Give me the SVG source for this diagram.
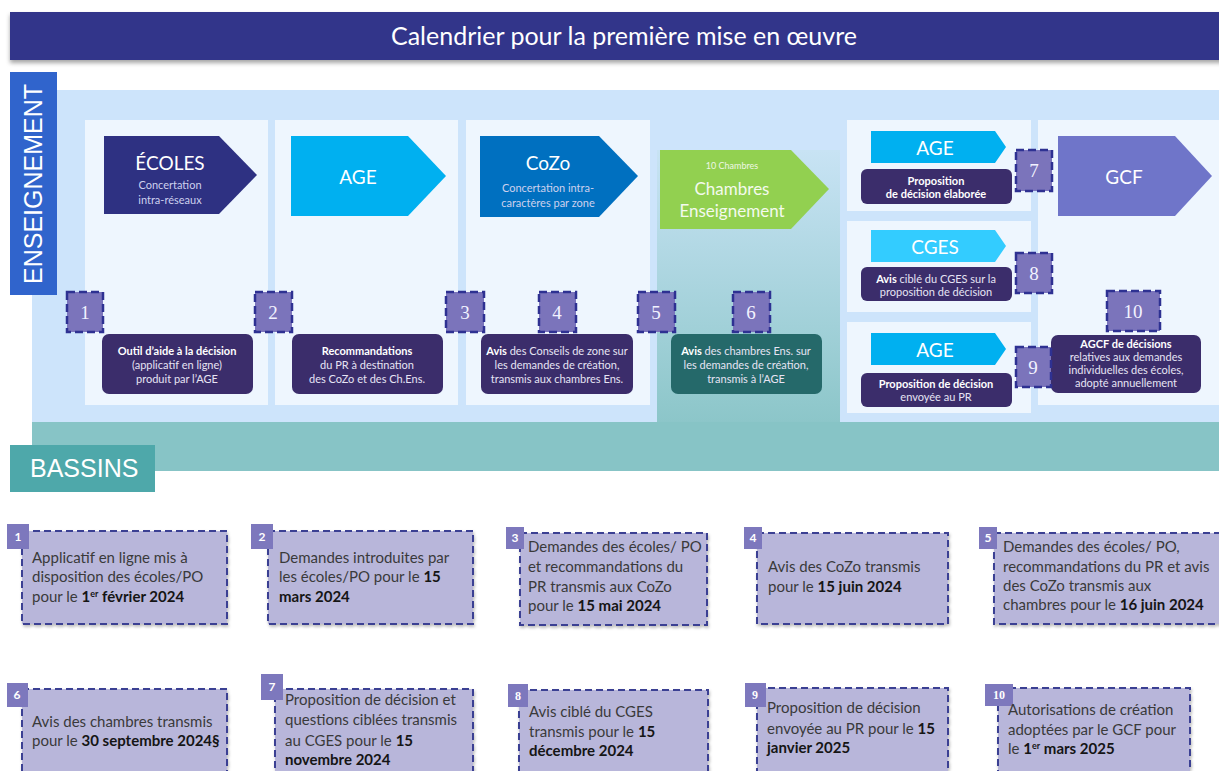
<svg xmlns="http://www.w3.org/2000/svg" width="1219" height="771" viewBox="0 0 1219 771">
<defs>
<linearGradient id="chg" x1="0" y1="0" x2="0" y2="1">
<stop offset="0" stop-color="#c8e3f4"/>
<stop offset="1" stop-color="#8cc6c9"/>
</linearGradient>
<filter id="sh" x="-5%" y="-20%" width="110%" height="150%">
<feDropShadow dx="0" dy="3" stdDeviation="2" flood-color="#000" flood-opacity="0.35"/>
</filter>
<filter id="bsh" x="-5%" y="-5%" width="110%" height="115%">
<feDropShadow dx="1" dy="2" stdDeviation="1.5" flood-color="#000" flood-opacity="0.25"/>
</filter>
</defs>
<style>
text{font-family:Lato,"Open Sans","Liberation Sans",sans-serif}
.w{fill:#ffffff}
.sub{fill:#cdd0ee;font-size:11px}
.at{fill:#ffffff;font-size:19px;text-anchor:middle}
.dk{fill:#3b2d6b}
.dt{fill:#e6e4f4;font-size:11px;text-anchor:middle}
.b{font-weight:bold;fill:#ffffff}
.sq{fill:#7b74bb;stroke:#2e3192;stroke-width:2.5;stroke-dasharray:8 4}
.num{font-family:"Liberation Serif","DejaVu Serif",serif;font-size:19px;fill:#f2f2ff;text-anchor:middle}
.pn{fill:#eef6fe}
.bb{fill:#b8b6da;stroke:#3b4093;stroke-width:2;stroke-dasharray:7 4}
.tag{fill:#7d78bd}
.tn{fill:#ffffff;font-size:12px;font-weight:bold;text-anchor:middle}
.tns{font-family:"Liberation Serif",serif}
.bt{font-size:15px;fill:#3a3a3a}
.bd{font-weight:bold;fill:#151515}
.lab{font-family:"Liberation Sans",Arial,sans-serif;fill:#ffffff;font-size:25px}
</style>

<g id="header">
<rect x="10" y="12" width="1215" height="48" fill="#30368a" filter="url(#sh)"/>
<text x="624" y="45" class="w" font-size="25" text-anchor="middle">Calendrier pour la première mise en œuvre</text>
</g>

<g id="background">
<rect x="32" y="90" width="1187" height="332" fill="#cde4fb"/>
<rect x="32" y="422" width="1187" height="49" fill="#87c4c6"/>
<rect x="657" y="150" width="183" height="272" fill="url(#chg)"/>
<rect class="pn" x="85" y="120" width="183" height="285"/>
<rect class="pn" x="275" y="120" width="183" height="285"/>
<rect class="pn" x="466" y="120" width="184" height="285"/>
<rect class="pn" x="847" y="120" width="184" height="91"/>
<rect class="pn" x="847" y="221" width="184" height="91"/>
<rect class="pn" x="847" y="322" width="184" height="91"/>
<rect class="pn" x="1038" y="120" width="181" height="285"/>
</g>

<g id="label-enseignement">
<rect x="10" y="72" width="47" height="223" fill="#3064cc"/>
<text class="lab" transform="translate(42,184) rotate(-90)" text-anchor="middle" font-size="24">ENSEIGNEMENT</text>
</g>

<g id="label-bassins">
<rect x="10" y="445" width="145" height="47" fill="#4ea8aa"/>
<text class="lab" x="30" y="477" font-size="24">BASSINS</text>
</g>

<g id="node-ecoles">
<polygon points="104,136 219,136 257,175 219,214 104,214" fill="#2e3182"/>
<text class="at" x="170" y="170" font-size="18">ÉCOLES</text>
<text class="sub" x="170" y="189" text-anchor="middle">Concertation</text>
<text class="sub" x="170" y="204" text-anchor="middle">intra-réseaux</text>
</g>

<g id="node-age1">
<polygon points="291,136 408,136 446,176 408,216 291,216" fill="#00b0f0"/>
<text class="at" x="358" y="184">AGE</text>
</g>

<g id="node-cozo">
<polygon points="480,136 599,136 638,176 599,217 480,217" fill="#0070c0"/>
<text class="at" x="548" y="170">CoZo</text>
<text class="sub" x="548" y="192" text-anchor="middle">Concertation intra-</text>
<text class="sub" x="548" y="207" text-anchor="middle">caractères par zone</text>
</g>

<g id="node-chambres">
<polygon points="660,150 791,150 829,189 791,229 660,229" fill="#92d050"/>
<text x="732" y="169" fill="#eef7e4" font-size="9" text-anchor="middle">10 Chambres</text>
<text x="732" y="195" fill="#f4faee" font-size="17" text-anchor="middle">Chambres</text>
<text x="732" y="217" fill="#f4faee" font-size="17" text-anchor="middle">Enseignement</text>
</g>

<g id="node-age2">
<polygon points="871,131 995,131 1006,147 995,163 871,163" fill="#00b0f0"/>
<text class="at" x="935" y="155" font-size="18">AGE</text>
</g>

<g id="node-cges">
<polygon points="871,230 995,230 1006,246 995,262 871,262" fill="#33ccff"/>
<text class="at" x="935" y="254" font-size="18">CGES</text>
</g>

<g id="node-age3">
<polygon points="871,333 995,333 1006,349 995,365 871,365" fill="#00b0f0"/>
<text class="at" x="935" y="357" font-size="18">AGE</text>
</g>

<g id="node-gcf">
<polygon points="1058,136 1175,136 1212,176 1175,216 1058,216" fill="#6f75c9"/>
<text class="at" x="1124" y="184">GCF</text>
</g>

<g id="box-outil">
<rect class="dk" x="102" y="334" width="151" height="60" rx="7"/>
<text class="dt" x="177" y="355"><tspan class="b">Outil d’aide à la décision</tspan></text>
<text class="dt" x="177" y="369">(applicatif en ligne)</text>
<text class="dt" x="177" y="383">produit par l’AGE</text>
</g>

<g id="box-recommandations">
<rect class="dk" x="292" y="334" width="151" height="60" rx="7"/>
<text class="dt" x="367" y="355"><tspan class="b">Recommandations</tspan></text>
<text class="dt" x="367" y="369">du PR à destination</text>
<text class="dt" x="367" y="383">des CoZo et des Ch.Ens.</text>
</g>

<g id="box-avis-cozo">
<rect class="dk" x="481" y="334" width="152" height="60" rx="7"/>
<text class="dt" x="557" y="355"><tspan class="b">Avis</tspan> des Conseils de zone sur</text>
<text class="dt" x="557" y="369">les demandes de création,</text>
<text class="dt" x="557" y="383">transmis aux chambres Ens.</text>
</g>

<g id="box-avis-chambres">
<rect x="671" y="334" width="151" height="60" rx="7" fill="#25696a"/>
<text class="dt" x="746" y="355"><tspan class="b">Avis</tspan> des chambres Ens. sur</text>
<text class="dt" x="746" y="369">les demandes de création,</text>
<text class="dt" x="746" y="383">transmis à l’AGE</text>
</g>

<g id="box-proposition-elaboree">
<rect class="dk" x="861" y="169" width="151" height="35" rx="6"/>
<text class="dt" x="936" y="185"><tspan class="b">Proposition</tspan></text>
<text class="dt" x="936" y="198"><tspan class="b">de décision élaborée</tspan></text>
</g>

<g id="box-avis-cges">
<rect class="dk" x="861" y="267" width="151" height="34" rx="6"/>
<text class="dt" x="936" y="283"><tspan class="b">Avis</tspan> ciblé du CGES sur la</text>
<text class="dt" x="936" y="296">proposition de décision</text>
</g>

<g id="box-proposition-envoyee">
<rect class="dk" x="861" y="373" width="151" height="34" rx="6"/>
<text class="dt" x="936" y="388"><tspan class="b">Proposition de décision</tspan></text>
<text class="dt" x="936" y="401">envoyée au PR</text>
</g>

<g id="box-agcf">
<rect class="dk" x="1051" y="335" width="150" height="58" rx="7"/>
<text class="dt" x="1126" y="348"><tspan class="b">AGCF de décisions</tspan></text>
<text class="dt" x="1126" y="361">relatives aux demandes</text>
<text class="dt" x="1126" y="374">individuelles des écoles,</text>
<text class="dt" x="1126" y="387">adopté annuellement</text>
</g>

<g id="step-1"><rect class="sq" x="67" y="292" width="36" height="40"/><text class="num" x="85" y="319">1</text></g>
<g id="step-2"><rect class="sq" x="255" y="292" width="37" height="40"/><text class="num" x="273" y="319">2</text></g>
<g id="step-3"><rect class="sq" x="446" y="292" width="38" height="40"/><text class="num" x="465" y="319">3</text></g>
<g id="step-4"><rect class="sq" x="539" y="292" width="37" height="40"/><text class="num" x="557" y="319">4</text></g>
<g id="step-5"><rect class="sq" x="638" y="292" width="37" height="40"/><text class="num" x="656" y="319">5</text></g>
<g id="step-6"><rect class="sq" x="733" y="292" width="37" height="40"/><text class="num" x="751" y="319">6</text></g>
<g id="step-7"><rect class="sq" x="1016" y="150" width="36" height="41"/><text class="num" x="1034" y="177">7</text></g>
<g id="step-8"><rect class="sq" x="1016" y="253" width="36" height="40"/><text class="num" x="1034" y="280">8</text></g>
<g id="step-9"><rect class="sq" x="1016" y="347" width="35" height="40"/><text class="num" x="1033" y="374">9</text></g>
<g id="step-10"><rect class="sq" x="1107" y="291" width="53" height="40"/><text class="num" x="1133" y="318">10</text></g>

<g id="connectors"></g>

<g id="cal-1">
<rect class="bb" x="22" y="531" width="205" height="93" filter="url(#bsh)"/>
<rect class="tag" x="7" y="524" width="22" height="25"/><text class="tn" x="18" y="541">1</text>
<text class="bt" x="32" y="563">Applicatif en ligne mis à</text>
<text class="bt" x="32" y="582">disposition des écoles/PO</text>
<text class="bt" x="32" y="602">pour le <tspan class="bd">1<tspan font-size="9" dy="-5">er</tspan><tspan dy="5"> février 2024</tspan></tspan></text>
</g>

<g id="cal-2">
<rect class="bb" x="268" y="531" width="205" height="93" filter="url(#bsh)"/>
<rect class="tag" x="251" y="524" width="22" height="25"/><text class="tn" x="262" y="541">2</text>
<text class="bt" x="279" y="563">Demandes introduites par</text>
<text class="bt" x="279" y="582">les écoles/PO pour le <tspan class="bd">15</tspan></text>
<text class="bt" x="279" y="602"><tspan class="bd">mars 2024</tspan></text>
</g>

<g id="cal-3">
<rect class="bb" x="520" y="533" width="187" height="92" filter="url(#bsh)"/>
<rect class="tag" x="506" y="527" width="18" height="22"/><text class="tn" x="515" y="542" font-size="10">3</text>
<text class="bt" x="528" y="552">Demandes des écoles/ PO</text>
<text class="bt" x="528" y="572">et recommandations du</text>
<text class="bt" x="528" y="592">PR transmis aux CoZo</text>
<text class="bt" x="528" y="611">pour le <tspan class="bd">15 mai 2024</tspan></text>
</g>

<g id="cal-4">
<rect class="bb" x="757" y="533" width="191" height="91" filter="url(#bsh)"/>
<rect class="tag" x="744" y="527" width="18" height="22"/><text class="tn" x="753" y="542" font-size="10">4</text>
<text class="bt" x="768" y="572">Avis des CoZo transmis</text>
<text class="bt" x="768" y="592">pour le <tspan class="bd">15 juin 2024</tspan></text>
</g>

<g id="cal-5">
<rect class="bb" x="994" y="533" width="230" height="91" filter="url(#bsh)"/>
<rect class="tag" x="979" y="527" width="18" height="22"/><text class="tn" x="988" y="542" font-size="10">5</text>
<text class="bt" x="1003" y="552">Demandes des écoles/ PO,</text>
<text class="bt" x="1003" y="572">recommandations du PR et avis</text>
<text class="bt" x="1003" y="591">des CoZo transmis aux</text>
<text class="bt" x="1003" y="610">chambres pour le <tspan class="bd">16 juin 2024</tspan></text>
</g>

<g id="cal-6">
<rect class="bb" x="22" y="689" width="205" height="100" filter="url(#bsh)"/>
<rect class="tag" x="7" y="683" width="21" height="24"/><text class="tn" x="17" y="699">6</text>
<text class="bt" x="32" y="727">Avis des chambres transmis</text>
<text class="bt" x="32" y="746">pour le <tspan class="bd">30 septembre 2024§</tspan></text>
</g>

<g id="cal-7">
<rect class="bb" x="275" y="689" width="198" height="100" filter="url(#bsh)"/>
<rect class="tag" x="261" y="674" width="22" height="26"/><text class="tn" x="272" y="691">7</text>
<text class="bt" x="285" y="705">Proposition de décision et</text>
<text class="bt" x="285" y="725">questions ciblées transmis</text>
<text class="bt" x="285" y="746">au CGES pour le <tspan class="bd">15</tspan></text>
<text class="bt" x="285" y="765"><tspan class="bd">novembre 2024</tspan></text>
</g>

<g id="cal-8">
<rect class="bb" x="519" y="690" width="189" height="100" filter="url(#bsh)"/>
<rect class="tag" x="508" y="684" width="20" height="23"/><text class="tn tns" x="518" y="700">8</text>
<text class="bt" x="529" y="717">Avis ciblé du CGES</text>
<text class="bt" x="529" y="737">transmis pour le <tspan class="bd">15</tspan></text>
<text class="bt" x="529" y="756"><tspan class="bd">décembre 2024</tspan></text>
</g>

<g id="cal-9">
<rect class="bb" x="757" y="688" width="191" height="100" filter="url(#bsh)"/>
<rect class="tag" x="745" y="683" width="21" height="24"/><text class="tn tns" x="755" y="699">9</text>
<text class="bt" x="767" y="713">Proposition de décision</text>
<text class="bt" x="767" y="734">envoyée au PR pour le <tspan class="bd">15</tspan></text>
<text class="bt" x="767" y="753"><tspan class="bd">janvier 2025</tspan></text>
</g>

<g id="cal-10">
<rect class="bb" x="998" y="688" width="192" height="100" filter="url(#bsh)"/>
<rect class="tag" x="985" y="684" width="28" height="22"/><text class="tn tns" x="999" y="699">10</text>
<text class="bt" x="1008" y="715">Autorisations de création</text>
<text class="bt" x="1008" y="735">adoptées par le GCF pour</text>
<text class="bt" x="1008" y="754">le <tspan class="bd">1<tspan font-size="9" dy="-5">er</tspan><tspan dy="5"> mars 2025</tspan></tspan></text>
</g>
</svg>
